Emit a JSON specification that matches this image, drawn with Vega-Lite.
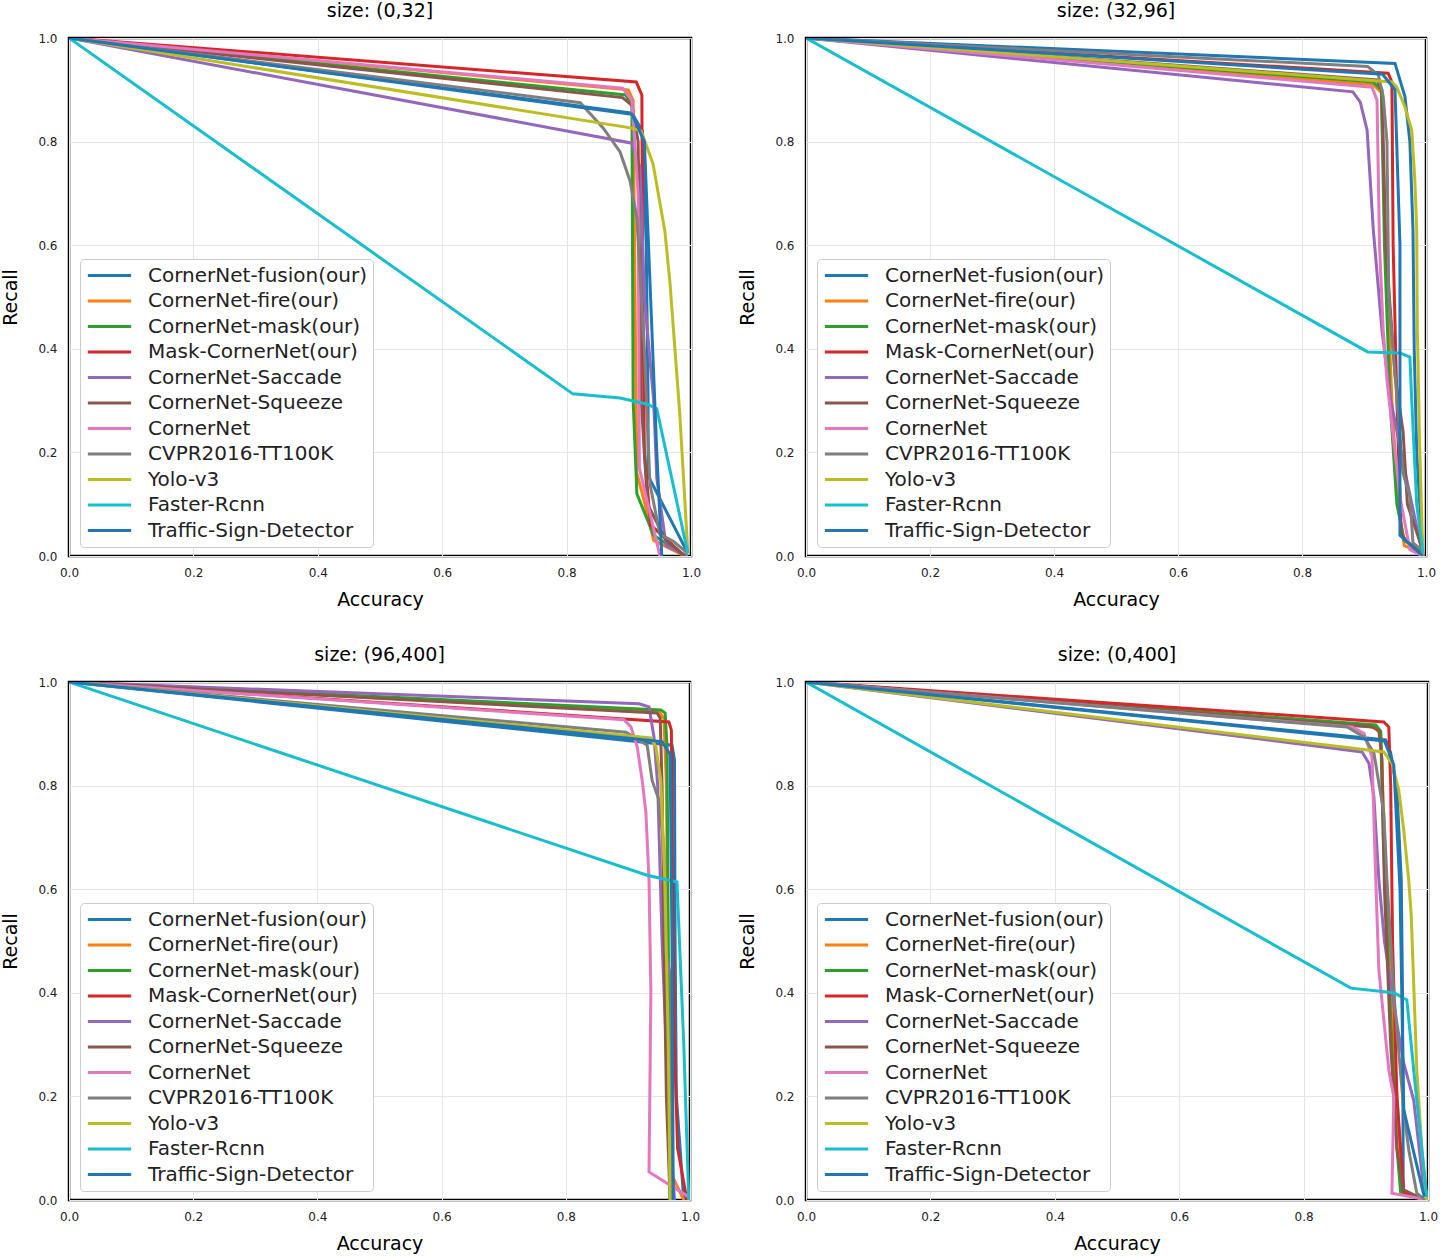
{
"$schema":"https://vega.github.io/schema/vega-lite/v6.json",
"padding":{"left":0,"top":0,"right":6,"bottom":0},
"datasets":{"d":[
{"p":1,"s":"CornerNet-fusion(our)","i":0,"x":0,"y":1},{"p":1,"s":"CornerNet-fusion(our)","i":1,"x":0.905,"y":0.855},{"p":1,"s":"CornerNet-fusion(our)","i":2,"x":0.922,"y":0.82},{"p":1,"s":"CornerNet-fusion(our)","i":3,"x":0.928,"y":0.6},{"p":1,"s":"CornerNet-fusion(our)","i":4,"x":0.931,"y":0.3},{"p":1,"s":"CornerNet-fusion(our)","i":5,"x":0.931,"y":0.155},{"p":1,"s":"CornerNet-fusion(our)","i":6,"x":0.995,"y":0.005},
{"p":1,"s":"CornerNet-fire(our)","i":0,"x":0,"y":1},{"p":1,"s":"CornerNet-fire(our)","i":1,"x":0.899,"y":0.9},{"p":1,"s":"CornerNet-fire(our)","i":2,"x":0.907,"y":0.88},{"p":1,"s":"CornerNet-fire(our)","i":3,"x":0.91,"y":0.5},{"p":1,"s":"CornerNet-fire(our)","i":4,"x":0.913,"y":0.16},{"p":1,"s":"CornerNet-fire(our)","i":5,"x":0.926,"y":0.1},{"p":1,"s":"CornerNet-fire(our)","i":6,"x":0.94,"y":0.03},{"p":1,"s":"CornerNet-fire(our)","i":7,"x":0.99,"y":0},
{"p":1,"s":"CornerNet-mask(our)","i":0,"x":0,"y":1},{"p":1,"s":"CornerNet-mask(our)","i":1,"x":0.895,"y":0.89},{"p":1,"s":"CornerNet-mask(our)","i":2,"x":0.905,"y":0.87},{"p":1,"s":"CornerNet-mask(our)","i":3,"x":0.907,"y":0.3},{"p":1,"s":"CornerNet-mask(our)","i":4,"x":0.913,"y":0.12},{"p":1,"s":"CornerNet-mask(our)","i":5,"x":0.94,"y":0.04},{"p":1,"s":"CornerNet-mask(our)","i":6,"x":0.99,"y":0},
{"p":1,"s":"Mask-CornerNet(our)","i":0,"x":0,"y":1},{"p":1,"s":"Mask-CornerNet(our)","i":1,"x":0.912,"y":0.915},{"p":1,"s":"Mask-CornerNet(our)","i":2,"x":0.921,"y":0.89},{"p":1,"s":"Mask-CornerNet(our)","i":3,"x":0.922,"y":0.6},{"p":1,"s":"Mask-CornerNet(our)","i":4,"x":0.925,"y":0.2},{"p":1,"s":"Mask-CornerNet(our)","i":5,"x":0.935,"y":0.06},{"p":1,"s":"Mask-CornerNet(our)","i":6,"x":0.99,"y":0},
{"p":1,"s":"CornerNet-Saccade","i":0,"x":0,"y":1},{"p":1,"s":"CornerNet-Saccade","i":1,"x":0.905,"y":0.797},{"p":1,"s":"CornerNet-Saccade","i":2,"x":0.918,"y":0.75},{"p":1,"s":"CornerNet-Saccade","i":3,"x":0.925,"y":0.5},{"p":1,"s":"CornerNet-Saccade","i":4,"x":0.94,"y":0.3},{"p":1,"s":"CornerNet-Saccade","i":5,"x":0.945,"y":0.15},{"p":1,"s":"CornerNet-Saccade","i":6,"x":0.96,"y":0.02},{"p":1,"s":"CornerNet-Saccade","i":7,"x":0.995,"y":0},
{"p":1,"s":"CornerNet-Squeeze","i":0,"x":0,"y":1},{"p":1,"s":"CornerNet-Squeeze","i":1,"x":0.89,"y":0.885},{"p":1,"s":"CornerNet-Squeeze","i":2,"x":0.905,"y":0.87},{"p":1,"s":"CornerNet-Squeeze","i":3,"x":0.915,"y":0.8},{"p":1,"s":"CornerNet-Squeeze","i":4,"x":0.92,"y":0.3},{"p":1,"s":"CornerNet-Squeeze","i":5,"x":0.93,"y":0.1},{"p":1,"s":"CornerNet-Squeeze","i":6,"x":0.96,"y":0.03},{"p":1,"s":"CornerNet-Squeeze","i":7,"x":0.99,"y":0},
{"p":1,"s":"CornerNet","i":0,"x":0,"y":1},{"p":1,"s":"CornerNet","i":1,"x":0.89,"y":0.903},{"p":1,"s":"CornerNet","i":2,"x":0.905,"y":0.88},{"p":1,"s":"CornerNet","i":3,"x":0.915,"y":0.7},{"p":1,"s":"CornerNet","i":4,"x":0.917,"y":0.17},{"p":1,"s":"CornerNet","i":5,"x":0.95,"y":0},
{"p":1,"s":"CVPR2016-TT100K","i":0,"x":0,"y":1},{"p":1,"s":"CVPR2016-TT100K","i":1,"x":0.822,"y":0.875},{"p":1,"s":"CVPR2016-TT100K","i":2,"x":0.859,"y":0.826},{"p":1,"s":"CVPR2016-TT100K","i":3,"x":0.886,"y":0.78},{"p":1,"s":"CVPR2016-TT100K","i":4,"x":0.902,"y":0.724},{"p":1,"s":"CVPR2016-TT100K","i":5,"x":0.913,"y":0.652},{"p":1,"s":"CVPR2016-TT100K","i":6,"x":0.925,"y":0.4},{"p":1,"s":"CVPR2016-TT100K","i":7,"x":0.934,"y":0.139},{"p":1,"s":"CVPR2016-TT100K","i":8,"x":0.95,"y":0.042},{"p":1,"s":"CVPR2016-TT100K","i":9,"x":0.971,"y":0.029},{"p":1,"s":"CVPR2016-TT100K","i":10,"x":0.995,"y":0.005},
{"p":1,"s":"Yolo-v3","i":0,"x":0,"y":1},{"p":1,"s":"Yolo-v3","i":1,"x":0.905,"y":0.826},{"p":1,"s":"Yolo-v3","i":2,"x":0.92,"y":0.82},{"p":1,"s":"Yolo-v3","i":3,"x":0.939,"y":0.757},{"p":1,"s":"Yolo-v3","i":4,"x":0.958,"y":0.627},{"p":1,"s":"Yolo-v3","i":5,"x":0.966,"y":0.53},{"p":1,"s":"Yolo-v3","i":6,"x":0.982,"y":0.274},{"p":1,"s":"Yolo-v3","i":7,"x":0.995,"y":0.005},
{"p":1,"s":"Faster-Rcnn","i":0,"x":0,"y":1},{"p":1,"s":"Faster-Rcnn","i":1,"x":0.81,"y":0.313},{"p":1,"s":"Faster-Rcnn","i":2,"x":0.886,"y":0.305},{"p":1,"s":"Faster-Rcnn","i":3,"x":0.93,"y":0.293},{"p":1,"s":"Faster-Rcnn","i":4,"x":0.945,"y":0.284},{"p":1,"s":"Faster-Rcnn","i":5,"x":0.995,"y":0.005},
{"p":1,"s":"Traffic-Sign-Detector","i":0,"x":0,"y":1},{"p":1,"s":"Traffic-Sign-Detector","i":1,"x":0.905,"y":0.853},{"p":1,"s":"Traffic-Sign-Detector","i":2,"x":0.925,"y":0.8},{"p":1,"s":"Traffic-Sign-Detector","i":3,"x":0.935,"y":0.5},{"p":1,"s":"Traffic-Sign-Detector","i":4,"x":0.945,"y":0.2},{"p":1,"s":"Traffic-Sign-Detector","i":5,"x":0.953,"y":0},

{"p":2,"s":"CornerNet-fusion(our)","i":0,"x":0,"y":1},{"p":2,"s":"CornerNet-fusion(our)","i":1,"x":0.95,"y":0.951},{"p":2,"s":"CornerNet-fusion(our)","i":2,"x":0.966,"y":0.887},{"p":2,"s":"CornerNet-fusion(our)","i":3,"x":0.974,"y":0.8},{"p":2,"s":"CornerNet-fusion(our)","i":4,"x":0.979,"y":0.63},{"p":2,"s":"CornerNet-fusion(our)","i":5,"x":0.981,"y":0.4},{"p":2,"s":"CornerNet-fusion(our)","i":6,"x":0.985,"y":0.2},{"p":2,"s":"CornerNet-fusion(our)","i":7,"x":0.995,"y":0},
{"p":2,"s":"CornerNet-fire(our)","i":0,"x":0,"y":1},{"p":2,"s":"CornerNet-fire(our)","i":1,"x":0.915,"y":0.91},{"p":2,"s":"CornerNet-fire(our)","i":2,"x":0.928,"y":0.895},{"p":2,"s":"CornerNet-fire(our)","i":3,"x":0.935,"y":0.6},{"p":2,"s":"CornerNet-fire(our)","i":4,"x":0.945,"y":0.3},{"p":2,"s":"CornerNet-fire(our)","i":5,"x":0.955,"y":0.1},{"p":2,"s":"CornerNet-fire(our)","i":6,"x":0.965,"y":0.02},{"p":2,"s":"CornerNet-fire(our)","i":7,"x":0.995,"y":0.005},
{"p":2,"s":"CornerNet-mask(our)","i":0,"x":0,"y":1},{"p":2,"s":"CornerNet-mask(our)","i":1,"x":0.915,"y":0.915},{"p":2,"s":"CornerNet-mask(our)","i":2,"x":0.928,"y":0.9},{"p":2,"s":"CornerNet-mask(our)","i":3,"x":0.933,"y":0.6},{"p":2,"s":"CornerNet-mask(our)","i":4,"x":0.942,"y":0.3},{"p":2,"s":"CornerNet-mask(our)","i":5,"x":0.953,"y":0.1},{"p":2,"s":"CornerNet-mask(our)","i":6,"x":0.965,"y":0.03},{"p":2,"s":"CornerNet-mask(our)","i":7,"x":0.995,"y":0.005},
{"p":2,"s":"Mask-CornerNet(our)","i":0,"x":0,"y":1},{"p":2,"s":"Mask-CornerNet(our)","i":1,"x":0.939,"y":0.932},{"p":2,"s":"Mask-CornerNet(our)","i":2,"x":0.945,"y":0.915},{"p":2,"s":"Mask-CornerNet(our)","i":3,"x":0.947,"y":0.6},{"p":2,"s":"Mask-CornerNet(our)","i":4,"x":0.953,"y":0.3},{"p":2,"s":"Mask-CornerNet(our)","i":5,"x":0.96,"y":0.04},{"p":2,"s":"Mask-CornerNet(our)","i":6,"x":0.995,"y":0},
{"p":2,"s":"CornerNet-Saccade","i":0,"x":0,"y":1},{"p":2,"s":"CornerNet-Saccade","i":1,"x":0.882,"y":0.896},{"p":2,"s":"CornerNet-Saccade","i":2,"x":0.894,"y":0.876},{"p":2,"s":"CornerNet-Saccade","i":3,"x":0.905,"y":0.822},{"p":2,"s":"CornerNet-Saccade","i":4,"x":0.915,"y":0.63},{"p":2,"s":"CornerNet-Saccade","i":5,"x":0.929,"y":0.436},{"p":2,"s":"CornerNet-Saccade","i":6,"x":0.942,"y":0.307},{"p":2,"s":"CornerNet-Saccade","i":7,"x":0.969,"y":0.147},{"p":2,"s":"CornerNet-Saccade","i":8,"x":0.995,"y":0},
{"p":2,"s":"CornerNet-Squeeze","i":0,"x":0,"y":1},{"p":2,"s":"CornerNet-Squeeze","i":1,"x":0.921,"y":0.919},{"p":2,"s":"CornerNet-Squeeze","i":2,"x":0.929,"y":0.9},{"p":2,"s":"CornerNet-Squeeze","i":3,"x":0.935,"y":0.6},{"p":2,"s":"CornerNet-Squeeze","i":4,"x":0.95,"y":0.35},{"p":2,"s":"CornerNet-Squeeze","i":5,"x":0.963,"y":0.24},{"p":2,"s":"CornerNet-Squeeze","i":6,"x":0.97,"y":0.1},{"p":2,"s":"CornerNet-Squeeze","i":7,"x":0.995,"y":0.01},
{"p":2,"s":"CornerNet","i":0,"x":0,"y":1},{"p":2,"s":"CornerNet","i":1,"x":0.913,"y":0.905},{"p":2,"s":"CornerNet","i":2,"x":0.921,"y":0.88},{"p":2,"s":"CornerNet","i":3,"x":0.925,"y":0.6},{"p":2,"s":"CornerNet","i":4,"x":0.931,"y":0.436},{"p":2,"s":"CornerNet","i":5,"x":0.937,"y":0.34},{"p":2,"s":"CornerNet","i":6,"x":0.958,"y":0.114},{"p":2,"s":"CornerNet","i":7,"x":0.974,"y":0.012},{"p":2,"s":"CornerNet","i":8,"x":0.995,"y":0},
{"p":2,"s":"CVPR2016-TT100K","i":0,"x":0,"y":1},{"p":2,"s":"CVPR2016-TT100K","i":1,"x":0.906,"y":0.945},{"p":2,"s":"CVPR2016-TT100K","i":2,"x":0.923,"y":0.929},{"p":2,"s":"CVPR2016-TT100K","i":3,"x":0.931,"y":0.887},{"p":2,"s":"CVPR2016-TT100K","i":4,"x":0.937,"y":0.8},{"p":2,"s":"CVPR2016-TT100K","i":5,"x":0.94,"y":0.5},{"p":2,"s":"CVPR2016-TT100K","i":6,"x":0.96,"y":0.2},{"p":2,"s":"CVPR2016-TT100K","i":7,"x":0.963,"y":0.16},{"p":2,"s":"CVPR2016-TT100K","i":8,"x":0.974,"y":0.114},{"p":2,"s":"CVPR2016-TT100K","i":9,"x":0.979,"y":0.025},{"p":2,"s":"CVPR2016-TT100K","i":10,"x":0.995,"y":0.01},
{"p":2,"s":"Yolo-v3","i":0,"x":0,"y":1},{"p":2,"s":"Yolo-v3","i":1,"x":0.945,"y":0.915},{"p":2,"s":"Yolo-v3","i":2,"x":0.953,"y":0.905},{"p":2,"s":"Yolo-v3","i":3,"x":0.966,"y":0.867},{"p":2,"s":"Yolo-v3","i":4,"x":0.977,"y":0.822},{"p":2,"s":"Yolo-v3","i":5,"x":0.982,"y":0.726},{"p":2,"s":"Yolo-v3","i":6,"x":0.985,"y":0.63},{"p":2,"s":"Yolo-v3","i":7,"x":0.986,"y":0.44},{"p":2,"s":"Yolo-v3","i":8,"x":0.99,"y":0.2},{"p":2,"s":"Yolo-v3","i":9,"x":0.995,"y":0},
{"p":2,"s":"Faster-Rcnn","i":0,"x":0,"y":1},{"p":2,"s":"Faster-Rcnn","i":1,"x":0.906,"y":0.394},{"p":2,"s":"Faster-Rcnn","i":2,"x":0.958,"y":0.392},{"p":2,"s":"Faster-Rcnn","i":3,"x":0.974,"y":0.384},{"p":2,"s":"Faster-Rcnn","i":4,"x":0.977,"y":0.3},{"p":2,"s":"Faster-Rcnn","i":5,"x":0.985,"y":0.1},{"p":2,"s":"Faster-Rcnn","i":6,"x":0.995,"y":0.005},
{"p":2,"s":"Traffic-Sign-Detector","i":0,"x":0,"y":1},{"p":2,"s":"Traffic-Sign-Detector","i":1,"x":0.93,"y":0.93},{"p":2,"s":"Traffic-Sign-Detector","i":2,"x":0.95,"y":0.9},{"p":2,"s":"Traffic-Sign-Detector","i":3,"x":0.958,"y":0.6},{"p":2,"s":"Traffic-Sign-Detector","i":4,"x":0.958,"y":0.04},{"p":2,"s":"Traffic-Sign-Detector","i":5,"x":0.995,"y":0},

{"p":3,"s":"CornerNet-fusion(our)","i":0,"x":0,"y":1},{"p":3,"s":"CornerNet-fusion(our)","i":1,"x":0.971,"y":0.878},{"p":3,"s":"CornerNet-fusion(our)","i":2,"x":0.975,"y":0.85},{"p":3,"s":"CornerNet-fusion(our)","i":3,"x":0.976,"y":0.5},{"p":3,"s":"CornerNet-fusion(our)","i":4,"x":0.978,"y":0.2},{"p":3,"s":"CornerNet-fusion(our)","i":5,"x":0.99,"y":0},
{"p":3,"s":"CornerNet-fire(our)","i":0,"x":0,"y":1},{"p":3,"s":"CornerNet-fire(our)","i":1,"x":0.95,"y":0.942},{"p":3,"s":"CornerNet-fire(our)","i":2,"x":0.958,"y":0.93},{"p":3,"s":"CornerNet-fire(our)","i":3,"x":0.962,"y":0.8},{"p":3,"s":"CornerNet-fire(our)","i":4,"x":0.965,"y":0.4},{"p":3,"s":"CornerNet-fire(our)","i":5,"x":0.97,"y":0.05},{"p":3,"s":"CornerNet-fire(our)","i":6,"x":0.99,"y":0},
{"p":3,"s":"CornerNet-mask(our)","i":0,"x":0,"y":1},{"p":3,"s":"CornerNet-mask(our)","i":1,"x":0.953,"y":0.946},{"p":3,"s":"CornerNet-mask(our)","i":2,"x":0.96,"y":0.94},{"p":3,"s":"CornerNet-mask(our)","i":3,"x":0.963,"y":0.875},{"p":3,"s":"CornerNet-mask(our)","i":4,"x":0.965,"y":0.5},{"p":3,"s":"CornerNet-mask(our)","i":5,"x":0.967,"y":0.1},{"p":3,"s":"CornerNet-mask(our)","i":6,"x":0.968,"y":0},
{"p":3,"s":"Mask-CornerNet(our)","i":0,"x":0,"y":1},{"p":3,"s":"Mask-CornerNet(our)","i":1,"x":0.966,"y":0.923},{"p":3,"s":"Mask-CornerNet(our)","i":2,"x":0.97,"y":0.907},{"p":3,"s":"Mask-CornerNet(our)","i":3,"x":0.972,"y":0.6},{"p":3,"s":"Mask-CornerNet(our)","i":4,"x":0.975,"y":0.3},{"p":3,"s":"Mask-CornerNet(our)","i":5,"x":0.98,"y":0.1},{"p":3,"s":"Mask-CornerNet(our)","i":6,"x":0.995,"y":0},
{"p":3,"s":"CornerNet-Saccade","i":0,"x":0,"y":1},{"p":3,"s":"CornerNet-Saccade","i":1,"x":0.918,"y":0.958},{"p":3,"s":"CornerNet-Saccade","i":2,"x":0.934,"y":0.952},{"p":3,"s":"CornerNet-Saccade","i":3,"x":0.942,"y":0.894},{"p":3,"s":"CornerNet-Saccade","i":4,"x":0.948,"y":0.8},{"p":3,"s":"CornerNet-Saccade","i":5,"x":0.955,"y":0.5},{"p":3,"s":"CornerNet-Saccade","i":6,"x":0.965,"y":0.2},{"p":3,"s":"CornerNet-Saccade","i":7,"x":0.975,"y":0},
{"p":3,"s":"CornerNet-Squeeze","i":0,"x":0,"y":1},{"p":3,"s":"CornerNet-Squeeze","i":1,"x":0.947,"y":0.94},{"p":3,"s":"CornerNet-Squeeze","i":2,"x":0.952,"y":0.93},{"p":3,"s":"CornerNet-Squeeze","i":3,"x":0.955,"y":0.8},{"p":3,"s":"CornerNet-Squeeze","i":4,"x":0.958,"y":0.5},{"p":3,"s":"CornerNet-Squeeze","i":5,"x":0.962,"y":0.2},{"p":3,"s":"CornerNet-Squeeze","i":6,"x":0.968,"y":0},
{"p":3,"s":"CornerNet","i":0,"x":0,"y":1},{"p":3,"s":"CornerNet","i":1,"x":0.894,"y":0.927},{"p":3,"s":"CornerNet","i":2,"x":0.905,"y":0.913},{"p":3,"s":"CornerNet","i":3,"x":0.915,"y":0.875},{"p":3,"s":"CornerNet","i":4,"x":0.923,"y":0.81},{"p":3,"s":"CornerNet","i":5,"x":0.929,"y":0.747},{"p":3,"s":"CornerNet","i":6,"x":0.934,"y":0.618},{"p":3,"s":"CornerNet","i":7,"x":0.937,"y":0.4},{"p":3,"s":"CornerNet","i":8,"x":0.934,"y":0.054},{"p":3,"s":"CornerNet","i":9,"x":0.998,"y":0.006},
{"p":3,"s":"CVPR2016-TT100K","i":0,"x":0,"y":1},{"p":3,"s":"CVPR2016-TT100K","i":1,"x":0.897,"y":0.903},{"p":3,"s":"CVPR2016-TT100K","i":2,"x":0.931,"y":0.878},{"p":3,"s":"CVPR2016-TT100K","i":3,"x":0.939,"y":0.81},{"p":3,"s":"CVPR2016-TT100K","i":4,"x":0.95,"y":0.772},{"p":3,"s":"CVPR2016-TT100K","i":5,"x":0.958,"y":0.68},{"p":3,"s":"CVPR2016-TT100K","i":6,"x":0.961,"y":0.477},{"p":3,"s":"CVPR2016-TT100K","i":7,"x":0.969,"y":0.43},{"p":3,"s":"CVPR2016-TT100K","i":8,"x":0.97,"y":0.2},{"p":3,"s":"CVPR2016-TT100K","i":9,"x":0.972,"y":0},
{"p":3,"s":"Yolo-v3","i":0,"x":0,"y":1},{"p":3,"s":"Yolo-v3","i":1,"x":0.937,"y":0.892},{"p":3,"s":"Yolo-v3","i":2,"x":0.945,"y":0.875},{"p":3,"s":"Yolo-v3","i":3,"x":0.953,"y":0.81},{"p":3,"s":"Yolo-v3","i":4,"x":0.96,"y":0.6},{"p":3,"s":"Yolo-v3","i":5,"x":0.965,"y":0.3},{"p":3,"s":"Yolo-v3","i":6,"x":0.968,"y":0},
{"p":3,"s":"Faster-Rcnn","i":0,"x":0,"y":1},{"p":3,"s":"Faster-Rcnn","i":1,"x":0.931,"y":0.627},{"p":3,"s":"Faster-Rcnn","i":2,"x":0.979,"y":0.614},{"p":3,"s":"Faster-Rcnn","i":3,"x":0.99,"y":0.3},{"p":3,"s":"Faster-Rcnn","i":4,"x":0.998,"y":0},
{"p":3,"s":"Traffic-Sign-Detector","i":0,"x":0,"y":1},{"p":3,"s":"Traffic-Sign-Detector","i":1,"x":0.955,"y":0.885},{"p":3,"s":"Traffic-Sign-Detector","i":2,"x":0.968,"y":0.86},{"p":3,"s":"Traffic-Sign-Detector","i":3,"x":0.971,"y":0.5},{"p":3,"s":"Traffic-Sign-Detector","i":4,"x":0.973,"y":0},

{"p":4,"s":"CornerNet-fusion(our)","i":0,"x":0,"y":1},{"p":4,"s":"CornerNet-fusion(our)","i":1,"x":0.932,"y":0.888},{"p":4,"s":"CornerNet-fusion(our)","i":2,"x":0.94,"y":0.863},{"p":4,"s":"CornerNet-fusion(our)","i":3,"x":0.95,"y":0.792},{"p":4,"s":"CornerNet-fusion(our)","i":4,"x":0.957,"y":0.618},{"p":4,"s":"CornerNet-fusion(our)","i":5,"x":0.959,"y":0.4},{"p":4,"s":"CornerNet-fusion(our)","i":6,"x":0.96,"y":0.1},{"p":4,"s":"CornerNet-fusion(our)","i":7,"x":0.96,"y":0.015},{"p":4,"s":"CornerNet-fusion(our)","i":8,"x":0.995,"y":0},
{"p":4,"s":"CornerNet-fire(our)","i":0,"x":0,"y":1},{"p":4,"s":"CornerNet-fire(our)","i":1,"x":0.913,"y":0.913},{"p":4,"s":"CornerNet-fire(our)","i":2,"x":0.924,"y":0.9},{"p":4,"s":"CornerNet-fire(our)","i":3,"x":0.93,"y":0.7},{"p":4,"s":"CornerNet-fire(our)","i":4,"x":0.94,"y":0.4},{"p":4,"s":"CornerNet-fire(our)","i":5,"x":0.955,"y":0.1},{"p":4,"s":"CornerNet-fire(our)","i":6,"x":0.96,"y":0.015},{"p":4,"s":"CornerNet-fire(our)","i":7,"x":0.995,"y":0},
{"p":4,"s":"CornerNet-mask(our)","i":0,"x":0,"y":1},{"p":4,"s":"CornerNet-mask(our)","i":1,"x":0.916,"y":0.917},{"p":4,"s":"CornerNet-mask(our)","i":2,"x":0.924,"y":0.905},{"p":4,"s":"CornerNet-mask(our)","i":3,"x":0.928,"y":0.7},{"p":4,"s":"CornerNet-mask(our)","i":4,"x":0.938,"y":0.4},{"p":4,"s":"CornerNet-mask(our)","i":5,"x":0.95,"y":0.1},{"p":4,"s":"CornerNet-mask(our)","i":6,"x":0.956,"y":0.015},{"p":4,"s":"CornerNet-mask(our)","i":7,"x":0.995,"y":0},
{"p":4,"s":"Mask-CornerNet(our)","i":0,"x":0,"y":1},{"p":4,"s":"Mask-CornerNet(our)","i":1,"x":0.929,"y":0.923},{"p":4,"s":"Mask-CornerNet(our)","i":2,"x":0.937,"y":0.913},{"p":4,"s":"Mask-CornerNet(our)","i":3,"x":0.94,"y":0.8},{"p":4,"s":"Mask-CornerNet(our)","i":4,"x":0.943,"y":0.5},{"p":4,"s":"Mask-CornerNet(our)","i":5,"x":0.95,"y":0.2},{"p":4,"s":"Mask-CornerNet(our)","i":6,"x":0.961,"y":0.016},{"p":4,"s":"Mask-CornerNet(our)","i":7,"x":0.995,"y":0},
{"p":4,"s":"CornerNet-Saccade","i":0,"x":0,"y":1},{"p":4,"s":"CornerNet-Saccade","i":1,"x":0.894,"y":0.865},{"p":4,"s":"CornerNet-Saccade","i":2,"x":0.905,"y":0.843},{"p":4,"s":"CornerNet-Saccade","i":3,"x":0.913,"y":0.778},{"p":4,"s":"CornerNet-Saccade","i":4,"x":0.921,"y":0.618},{"p":4,"s":"CornerNet-Saccade","i":5,"x":0.93,"y":0.5},{"p":4,"s":"CornerNet-Saccade","i":6,"x":0.949,"y":0.347},{"p":4,"s":"CornerNet-Saccade","i":7,"x":0.961,"y":0.264},{"p":4,"s":"CornerNet-Saccade","i":8,"x":0.977,"y":0.193},{"p":4,"s":"CornerNet-Saccade","i":9,"x":0.994,"y":0.013},
{"p":4,"s":"CornerNet-Squeeze","i":0,"x":0,"y":1},{"p":4,"s":"CornerNet-Squeeze","i":1,"x":0.91,"y":0.913},{"p":4,"s":"CornerNet-Squeeze","i":2,"x":0.921,"y":0.907},{"p":4,"s":"CornerNet-Squeeze","i":3,"x":0.926,"y":0.85},{"p":4,"s":"CornerNet-Squeeze","i":4,"x":0.93,"y":0.6},{"p":4,"s":"CornerNet-Squeeze","i":5,"x":0.94,"y":0.3},{"p":4,"s":"CornerNet-Squeeze","i":6,"x":0.95,"y":0.1},{"p":4,"s":"CornerNet-Squeeze","i":7,"x":0.96,"y":0.02},{"p":4,"s":"CornerNet-Squeeze","i":8,"x":0.995,"y":0},
{"p":4,"s":"CornerNet","i":0,"x":0,"y":1},{"p":4,"s":"CornerNet","i":1,"x":0.878,"y":0.913},{"p":4,"s":"CornerNet","i":2,"x":0.897,"y":0.901},{"p":4,"s":"CornerNet","i":3,"x":0.91,"y":0.855},{"p":4,"s":"CornerNet","i":4,"x":0.916,"y":0.618},{"p":4,"s":"CornerNet","i":5,"x":0.921,"y":0.444},{"p":4,"s":"CornerNet","i":6,"x":0.937,"y":0.251},{"p":4,"s":"CornerNet","i":7,"x":0.945,"y":0.199},{"p":4,"s":"CornerNet","i":8,"x":0.942,"y":0.013},{"p":4,"s":"CornerNet","i":9,"x":1,"y":0},
{"p":4,"s":"CVPR2016-TT100K","i":0,"x":0,"y":1},{"p":4,"s":"CVPR2016-TT100K","i":1,"x":0.87,"y":0.913},{"p":4,"s":"CVPR2016-TT100K","i":2,"x":0.897,"y":0.894},{"p":4,"s":"CVPR2016-TT100K","i":3,"x":0.913,"y":0.863},{"p":4,"s":"CVPR2016-TT100K","i":4,"x":0.929,"y":0.747},{"p":4,"s":"CVPR2016-TT100K","i":5,"x":0.934,"y":0.618},{"p":4,"s":"CVPR2016-TT100K","i":6,"x":0.945,"y":0.4},{"p":4,"s":"CVPR2016-TT100K","i":7,"x":0.961,"y":0.174},{"p":4,"s":"CVPR2016-TT100K","i":8,"x":0.969,"y":0.097},{"p":4,"s":"CVPR2016-TT100K","i":9,"x":0.982,"y":0.013},{"p":4,"s":"CVPR2016-TT100K","i":10,"x":0.995,"y":0},
{"p":4,"s":"Yolo-v3","i":0,"x":0,"y":1},{"p":4,"s":"Yolo-v3","i":1,"x":0.929,"y":0.865},{"p":4,"s":"Yolo-v3","i":2,"x":0.942,"y":0.843},{"p":4,"s":"Yolo-v3","i":3,"x":0.953,"y":0.792},{"p":4,"s":"Yolo-v3","i":4,"x":0.961,"y":0.714},{"p":4,"s":"Yolo-v3","i":5,"x":0.969,"y":0.618},{"p":4,"s":"Yolo-v3","i":6,"x":0.973,"y":0.55},{"p":4,"s":"Yolo-v3","i":7,"x":0.982,"y":0.251},{"p":4,"s":"Yolo-v3","i":8,"x":0.99,"y":0.1},{"p":4,"s":"Yolo-v3","i":9,"x":0.998,"y":0},
{"p":4,"s":"Faster-Rcnn","i":0,"x":0,"y":1},{"p":4,"s":"Faster-Rcnn","i":1,"x":0.876,"y":0.409},{"p":4,"s":"Faster-Rcnn","i":2,"x":0.945,"y":0.4},{"p":4,"s":"Faster-Rcnn","i":3,"x":0.966,"y":0.386},{"p":4,"s":"Faster-Rcnn","i":4,"x":0.977,"y":0.251},{"p":4,"s":"Faster-Rcnn","i":5,"x":0.998,"y":0.006},
{"p":4,"s":"Traffic-Sign-Detector","i":0,"x":0,"y":1},{"p":4,"s":"Traffic-Sign-Detector","i":1,"x":0.93,"y":0.886},{"p":4,"s":"Traffic-Sign-Detector","i":2,"x":0.945,"y":0.84},{"p":4,"s":"Traffic-Sign-Detector","i":3,"x":0.955,"y":0.6},{"p":4,"s":"Traffic-Sign-Detector","i":4,"x":0.961,"y":0.174},{"p":4,"s":"Traffic-Sign-Detector","i":5,"x":0.994,"y":0.006}
]},
"columns":2,
"spacing":{"row":33,"column":35},
"resolve":{"legend":{"color":"independent"}},
"concat":[
{"width":622,"height":518,"title":"size: (0,32]","data":{"name":"d"},"transform":[{"filter":"datum.p==1"}],
"mark":{"type":"line","strokeWidth":3,"clip":true},
"encoding":{
"x":{"field":"x","type":"quantitative","scale":{"domain":[0,1]},"axis":{"title":"Accuracy","values":[0,0.2,0.4,0.6,0.8,1],"format":".1f"}},
"y":{"field":"y","type":"quantitative","scale":{"domain":[0,1]},"axis":{"title":"Recall","values":[0,0.2,0.4,0.6,0.8,1],"format":".1f"}},
"color":{"field":"s","type":"nominal","sort":null,"scale":{"domain":["CornerNet-fusion(our)","CornerNet-fire(our)","CornerNet-mask(our)","Mask-CornerNet(our)","CornerNet-Saccade","CornerNet-Squeeze","CornerNet","CVPR2016-TT100K","Yolo-v3","Faster-Rcnn","Traffic-Sign-Detector"],"range":["#1f77b4","#ff7f0e","#2ca02c","#d62728","#9467bd","#8c564b","#e377c2","#7f7f7f","#bcbd22","#17becf","#1f77b4"]}},
"order":{"field":"i","type":"quantitative"}}},
{"width":620,"height":518,"title":"size: (32,96]","data":{"name":"d"},"transform":[{"filter":"datum.p==2"}],
"mark":{"type":"line","strokeWidth":3,"clip":true},
"encoding":{
"x":{"field":"x","type":"quantitative","scale":{"domain":[0,1]},"axis":{"title":"Accuracy","values":[0,0.2,0.4,0.6,0.8,1],"format":".1f"}},
"y":{"field":"y","type":"quantitative","scale":{"domain":[0,1]},"axis":{"title":"Recall","values":[0,0.2,0.4,0.6,0.8,1],"format":".1f"}},
"color":{"field":"s","type":"nominal","sort":null,"scale":{"domain":["CornerNet-fusion(our)","CornerNet-fire(our)","CornerNet-mask(our)","Mask-CornerNet(our)","CornerNet-Saccade","CornerNet-Squeeze","CornerNet","CVPR2016-TT100K","Yolo-v3","Faster-Rcnn","Traffic-Sign-Detector"],"range":["#1f77b4","#ff7f0e","#2ca02c","#d62728","#9467bd","#8c564b","#e377c2","#7f7f7f","#bcbd22","#17becf","#1f77b4"]}},
"order":{"field":"i","type":"quantitative"}}},
{"width":621,"height":518,"title":"size: (96,400]","data":{"name":"d"},"transform":[{"filter":"datum.p==3"}],
"mark":{"type":"line","strokeWidth":3,"clip":true},
"encoding":{
"x":{"field":"x","type":"quantitative","scale":{"domain":[0,1]},"axis":{"title":"Accuracy","values":[0,0.2,0.4,0.6,0.8,1],"format":".1f"}},
"y":{"field":"y","type":"quantitative","scale":{"domain":[0,1]},"axis":{"title":"Recall","values":[0,0.2,0.4,0.6,0.8,1],"format":".1f"}},
"color":{"field":"s","type":"nominal","sort":null,"scale":{"domain":["CornerNet-fusion(our)","CornerNet-fire(our)","CornerNet-mask(our)","Mask-CornerNet(our)","CornerNet-Saccade","CornerNet-Squeeze","CornerNet","CVPR2016-TT100K","Yolo-v3","Faster-Rcnn","Traffic-Sign-Detector"],"range":["#1f77b4","#ff7f0e","#2ca02c","#d62728","#9467bd","#8c564b","#e377c2","#7f7f7f","#bcbd22","#17becf","#1f77b4"]}},
"order":{"field":"i","type":"quantitative"}}},
{"width":622,"height":518,"title":"size: (0,400]","data":{"name":"d"},"transform":[{"filter":"datum.p==4"}],
"mark":{"type":"line","strokeWidth":3,"clip":true},
"encoding":{
"x":{"field":"x","type":"quantitative","scale":{"domain":[0,1]},"axis":{"title":"Accuracy","values":[0,0.2,0.4,0.6,0.8,1],"format":".1f"}},
"y":{"field":"y","type":"quantitative","scale":{"domain":[0,1]},"axis":{"title":"Recall","values":[0,0.2,0.4,0.6,0.8,1],"format":".1f"}},
"color":{"field":"s","type":"nominal","sort":null,"scale":{"domain":["CornerNet-fusion(our)","CornerNet-fire(our)","CornerNet-mask(our)","Mask-CornerNet(our)","CornerNet-Saccade","CornerNet-Squeeze","CornerNet","CVPR2016-TT100K","Yolo-v3","Faster-Rcnn","Traffic-Sign-Detector"],"range":["#1f77b4","#ff7f0e","#2ca02c","#d62728","#9467bd","#8c564b","#e377c2","#7f7f7f","#bcbd22","#17becf","#1f77b4"]}},
"order":{"field":"i","type":"quantitative"}}}
],
"config":{
"font":"DejaVu Sans",
"view":{"stroke":"black","strokeWidth":2.5},
"axis":{"grid":true,"gridColor":"#e6e6e6","gridWidth":1,"domain":false,"ticks":false,"labelFontSize":12,"labelColor":"#222222","labelFlush":false,"labelOverlap":false,"titleFontSize":19,"titleFontWeight":"normal","titleColor":"black","labelFont":"DejaVu Sans","titleFont":"DejaVu Sans"},
"axisX":{"labelPadding":11,"titlePadding":12},
"axisY":{"labelPadding":12,"titlePadding":17},
"title":{"fontSize":19,"fontWeight":"normal","font":"DejaVu Sans","offset":11,"color":"black"},
"legend":{"orient":"none","legendX":11,"legendY":221,"title":null,"symbolType":"M-2.5,0H2.5","symbolSize":300,"symbolStrokeWidth":3,"symbolOffset":13,"labelFontSize":20,"labelFont":"DejaVu Sans","labelColor":"#222222","labelLimit":400,"strokeColor":"#cccccc","fillColor":"white","padding":6,"cornerRadius":4,"rowPadding":4.5,"labelOffset":28}
}
}
